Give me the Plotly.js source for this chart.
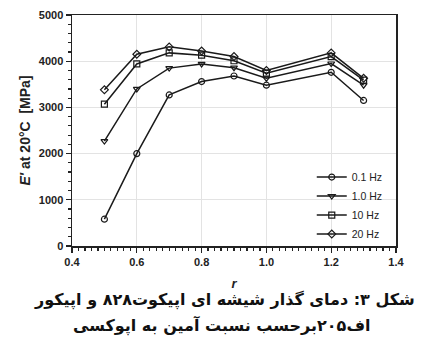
<!DOCTYPE html>
<html><head><meta charset="utf-8">
<script src="https://cdn.plot.ly/plotly-3.0.1.min.js"></script>
<style>html,body{margin:0;padding:0;background:#fff;}#chart{width:428px;height:357px;}</style>
</head><body><div id="chart"></div>
<script>
const rValues = [0.5, 0.6, 0.7, 0.8, 0.9, 1.0, 1.2, 1.3];
const e_01Hz = [580, 2000, 3270, 3560, 3680, 3480, 3760, 3150];
const e_1Hz = [2270, 3400, 3850, 3940, 3860, 3630, 3950, 3480];
const e_10Hz = [3070, 3940, 4180, 4130, 4010, 3740, 4100, 3590];
const e_20Hz = [3380, 4150, 4310, 4220, 4100, 3800, 4180, 3630];
const seriesNames = ['0.1 Hz', '1.0 Hz', '10 Hz', '20 Hz'];
const seriesValues = [e_01Hz, e_1Hz, e_10Hz, e_20Hz];
const symbols = ['circle-open', 'triangle-down-open', 'square-open', 'diamond-open'];
const captionLine1 = 'شکل ۳: دمای گذار شیشه ای اپیکوت۸۲۸ و اپیکور';
const captionLine2 = 'اف۲۰۵برحسب نسبت آمین به اپوکسی';

const traces = seriesNames.map((n, i) => ({
  x: rValues, y: seriesValues[i], name: n, type: 'scatter', mode: 'lines+markers',
  line: {color: '#1a1a1a', width: 1.5},
  marker: {symbol: symbols[i], size: 6, color: '#1a1a1a', line: {width: 1.2, color: '#1a1a1a'}}
}));

const tickFont = {family: 'Liberation Sans, Arial, sans-serif', size: 11, color: '#222', weight: 'bold'};
const layout = {
  width: 428, height: 357,
  margin: {l: 72, r: 32, t: 15, b: 111},
  paper_bgcolor: '#fff', plot_bgcolor: '#fff',
  showlegend: true,
  legend: {x: 0.74, y: 0.175, xanchor: 'left', yanchor: 'middle', bgcolor: 'rgba(0,0,0,0)',
    font: {family: 'Liberation Sans, Arial, sans-serif', size: 10.5, color: '#222'}, itemwidth: 30, tracegroupgap: 0},
  xaxis: {
    range: [0.4, 1.4], dtick: 0.2, tick0: 0.4, showgrid: true, gridcolor: '#e3e3e3', gridwidth: 1,
    showline: true, linecolor: '#222', linewidth: 1.5, mirror: true,
    ticks: 'outside', ticklen: 5, tickwidth: 1.2, tickcolor: '#222',
    minor: {dtick: 0.02, ticks: 'outside', ticklen: 3, tickcolor: '#222', showgrid: false},
    tickfont: tickFont, tickformat: '.1f', zeroline: false,
    title: {text: '<b><i>r</i></b>', font: {family: 'Liberation Sans, Arial, sans-serif', size: 13, color: '#222'}, standoff: 12}
  },
  yaxis: {
    range: [0, 5000], dtick: 1000, showgrid: true, gridcolor: '#e3e3e3', gridwidth: 1,
    showline: true, linecolor: '#222', linewidth: 1.5, mirror: true,
    ticks: 'outside', ticklen: 5, tickwidth: 1.2, tickcolor: '#222',
    minor: {dtick: 200, ticks: 'outside', ticklen: 3, tickcolor: '#222', showgrid: false},
    tickfont: tickFont, zeroline: false,
    title: {text: "<b><i>E'</i> at 20°C  [MPa]</b>", font: {family: 'Liberation Sans, Arial, sans-serif', size: 14, color: '#222'}, standoff: 5}
  },
  annotations: [
    {text: '<b>' + captionLine1 + '</b>', xref: 'paper', yref: 'paper', x: 0.472, y: -0.234, xanchor: 'center', yanchor: 'middle', showarrow: false,
      font: {family: 'DejaVu Sans, Noto Sans, sans-serif', size: 16, color: '#111'}},
    {text: '<b>' + captionLine2 + '</b>', xref: 'paper', yref: 'paper', x: 0.462, y: -0.342, xanchor: 'center', yanchor: 'middle', showarrow: false,
      font: {family: 'DejaVu Sans, Noto Sans, sans-serif', size: 16, color: '#111'}}
  ]
};
Plotly.newPlot('chart', traces, layout, {displayModeBar: false, staticPlot: true});
</script></body></html>
